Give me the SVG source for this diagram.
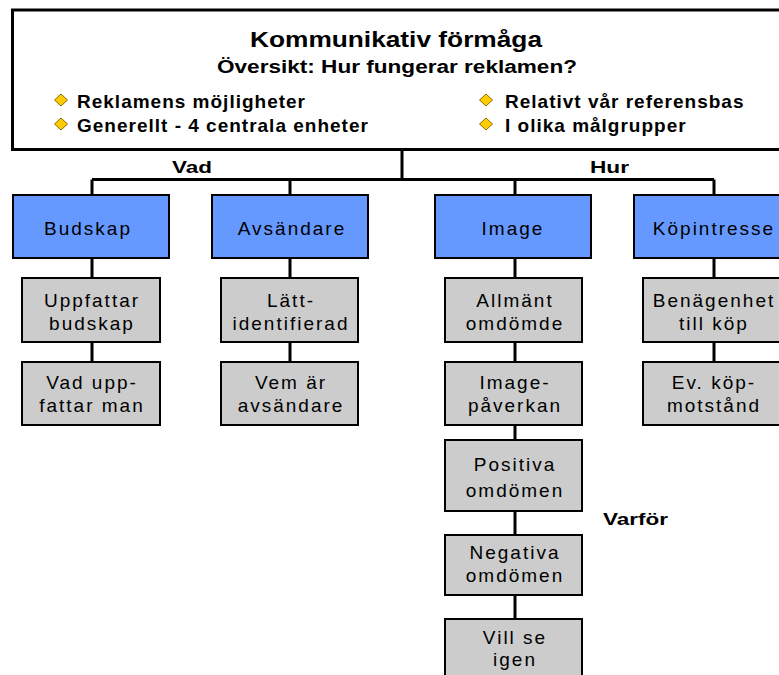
<svg xmlns="http://www.w3.org/2000/svg" width="779" height="675" viewBox="0 0 779 675">
<style>
.hdr{fill:#fff;stroke:#000;stroke-width:3}
.blue{fill:#6699FF;stroke:#000;stroke-width:2}
.gray{fill:#CCCCCC;stroke:#000;stroke-width:2}
.conn{stroke:#000;stroke-width:3;fill:none}
.bt{font-family:"Liberation Sans",Arial,sans-serif;font-size:19px;letter-spacing:2px;text-anchor:middle;fill:#000}
.bul{font-family:"Liberation Sans",Arial,sans-serif;font-size:19px;font-weight:bold;letter-spacing:1px;fill:#000}
.lab{font-family:"Liberation Sans",Arial,sans-serif;font-size:17px;font-weight:bold;fill:#000}
.ttl{font-family:"Liberation Sans",Arial,sans-serif;font-weight:bold;fill:#000;text-anchor:middle}
.dia{fill:#FFCC00;stroke:#8a6a00;stroke-width:1}
</style>
<rect width="779" height="675" fill="#fff"/>
<g id="header">
<rect class="hdr" x="12.5" y="10" width="790" height="139.5"/>
<text class="ttl" x="396" y="47" font-size="22" textLength="292" lengthAdjust="spacingAndGlyphs">Kommunikativ förmåga</text>
<text class="ttl" x="397" y="73" font-size="18" textLength="360" lengthAdjust="spacingAndGlyphs">Översikt: Hur fungerar reklamen?</text>
<polygon class="dia" points="61,94 67.5,100 61,106 54.5,100"/>
<text class="bul" x="77" y="108">Reklamens möjligheter</text>
<polygon class="dia" points="61,118 67.5,124 61,130 54.5,124"/>
<text class="bul" x="77" y="132">Generellt - 4 centrala enheter</text>
<polygon class="dia" points="486,94 492.5,100 486,106 479.5,100"/>
<text class="bul" x="505" y="108">Relativt vår referensbas</text>
<polygon class="dia" points="486,118 492.5,124 486,130 479.5,124"/>
<text class="bul" x="505" y="132">I olika målgrupper</text>
</g>
<g id="connectors">
<path class="conn" d="M402,150 V179.5 M92,179.5 H714 M92,179.5 V195 M290,179.5 V195 M515,179.5 V195 M714,179.5 V195"/>
<path class="conn" d="M92,258 V278 M92,342 V362"/>
<path class="conn" d="M290,258 V278 M290,342 V362"/>
<path class="conn" d="M515,258 V278 M515,342 V362 M515,425 V440 M515,511 V535 M515,595 V619"/>
<path class="conn" d="M714,258 V278 M714,342 V362"/>
</g>
<g id="labels">
<text class="lab" x="172" y="173" textLength="40" lengthAdjust="spacingAndGlyphs">Vad</text>
<text class="lab" x="590" y="173" textLength="39" lengthAdjust="spacingAndGlyphs">Hur</text>
<text class="lab" x="603" y="525" textLength="65" lengthAdjust="spacingAndGlyphs">Varför</text>
</g>
<g id="budskap">
<rect class="blue" x="13" y="195" width="156" height="63"/>
<text class="bt" x="88" y="235">Budskap</text>
</g>
<g id="uppfattar-budskap">
<rect class="gray" x="22" y="278" width="138" height="64"/>
<text class="bt" x="92" y="307">Uppfattar</text>
<text class="bt" x="92" y="330">budskap</text>
</g>
<g id="vad-uppfattar-man">
<rect class="gray" x="22" y="362" width="138" height="63"/>
<text class="bt" x="92" y="389">Vad upp-</text>
<text class="bt" x="92" y="412">fattar man</text>
</g>
<g id="avsandare">
<rect class="blue" x="212" y="195" width="156" height="63"/>
<text class="bt" x="292" y="235">Avsändare</text>
</g>
<g id="latt-identifierad">
<rect class="gray" x="221" y="278" width="137" height="64"/>
<text class="bt" x="291" y="307">Lätt-</text>
<text class="bt" x="291" y="330">identifierad</text>
</g>
<g id="vem-ar-avsandare">
<rect class="gray" x="221" y="362" width="137" height="63"/>
<text class="bt" x="291" y="389">Vem är</text>
<text class="bt" x="291" y="412">avsändare</text>
</g>
<g id="image">
<rect class="blue" x="435" y="195" width="156" height="63"/>
<text class="bt" x="513" y="235">Image</text>
</g>
<g id="allmant-omdome">
<rect class="gray" x="445" y="278" width="137" height="64"/>
<text class="bt" x="515" y="307">Allmänt</text>
<text class="bt" x="515" y="330">omdömde</text>
</g>
<g id="image-paverkan">
<rect class="gray" x="445" y="362" width="137" height="63"/>
<text class="bt" x="515" y="389">Image-</text>
<text class="bt" x="515" y="412">påverkan</text>
</g>
<g id="positiva-omdomen">
<rect class="gray" x="445" y="440" width="137" height="71"/>
<text class="bt" x="515" y="471">Positiva</text>
<text class="bt" x="515" y="497">omdömen</text>
</g>
<g id="negativa-omdomen">
<rect class="gray" x="445" y="535" width="137" height="60"/>
<text class="bt" x="515" y="559">Negativa</text>
<text class="bt" x="515" y="582">omdömen</text>
</g>
<g id="vill-se-igen">
<rect class="gray" x="445" y="619" width="137" height="70"/>
<text class="bt" x="515" y="644">Vill se</text>
<text class="bt" x="515" y="666">igen</text>
</g>
<g id="kopintresse">
<rect class="blue" x="634" y="195" width="156" height="63"/>
<text class="bt" x="714" y="235">Köpintresse</text>
</g>
<g id="benagenhet">
<rect class="gray" x="643" y="278" width="140" height="64"/>
<text class="bt" x="714" y="307">Benägenhet</text>
<text class="bt" x="714" y="330">till köp</text>
</g>
<g id="kopmotstand">
<rect class="gray" x="643" y="362" width="140" height="63"/>
<text class="bt" x="714" y="389">Ev. köp-</text>
<text class="bt" x="714" y="412">motstånd</text>
</g>
</svg>
